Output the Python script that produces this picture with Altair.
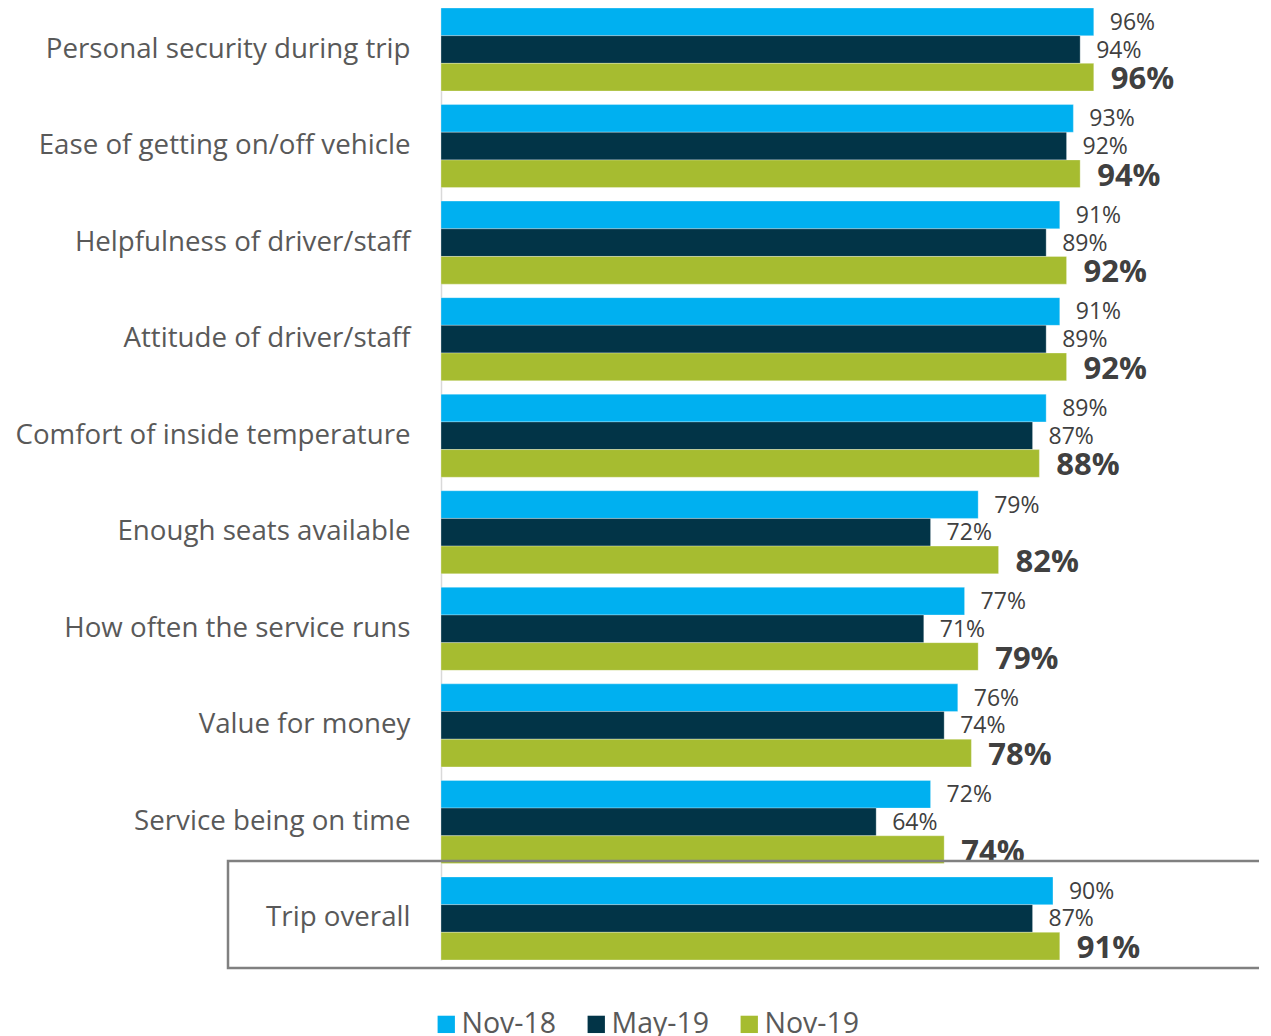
import altair as alt
import pandas as pd

categories = [
    "Personal security during trip",
    "Ease of getting on/off vehicle",
    "Helpfulness of driver/staff",
    "Attitude of driver/staff",
    "Comfort of inside temperature",
    "Enough seats available",
    "How often the service runs",
    "Value for money",
    "Service being on time",
    "Trip overall",
]
series = ["Nov-18", "May-19", "Nov-19"]
nov18 = [96, 93, 91, 91, 89, 79, 77, 76, 72, 90]
may19 = [94, 92, 89, 89, 87, 72, 71, 74, 64, 87]
nov19 = [96, 94, 92, 92, 88, 82, 79, 78, 74, 91]
colors = ["#00B0F0", "#023447", "#A6BC30"]

rows = []
for i, c in enumerate(categories):
    for s, vals in zip(series, [nov18, may19, nov19]):
        rows.append({"category": c, "series": s, "value": vals[i], "label": f"{vals[i]}%"})
df = pd.DataFrame(rows)

FONT = "Open Sans"
W, H = 818, 952

y_enc = alt.Y("category:N", sort=categories, title=None,
              scale=alt.Scale(paddingInner=0.14, paddingOuter=0),
              axis=alt.Axis(ticks=False, labelFontSize=27.7, labelColor="#595959",
                            labelFont=FONT, labelPadding=31, domainColor="#D9D9D9",
                            domainWidth=1.5, labelLimit=500))
yoff = alt.YOffset("series:N", sort=series, scale=alt.Scale(paddingInner=0, paddingOuter=0))
x_enc = alt.X("value:Q", scale=alt.Scale(domain=[0, 120.3], nice=False, zero=True), axis=None)

color = alt.Color("series:N", sort=series,
                  scale=alt.Scale(domain=series, range=colors),
                  legend=alt.Legend(title=None, orient="none", direction="horizontal",
                                    legendX=-9, legendY=1002, symbolType="square",
                                    symbolSize=300, symbolStrokeWidth=0, symbolOpacity=1,
                                    labelFontSize=28.5, labelFont=FONT, labelColor="#595959",
                                    labelOffset=1, columnPadding=25, padding=0))

base = alt.Chart(df)
bars = base.mark_bar(stroke="#FFFFFF", strokeWidth=0.5, strokeOpacity=0.6).encode(
    y=y_enc, yOffset=yoff, x=x_enc, color=color)

labels_small = base.transform_filter(alt.datum.series != "Nov-19").mark_text(
    align="left", baseline="middle", dx=16, dy=1, fontSize=23, font=FONT, color="#404040"
).encode(y=alt.Y("category:N", sort=categories), yOffset=yoff, x="value:Q", text="label:N")

labels_big = base.transform_filter(alt.datum.series == "Nov-19").mark_text(
    align="left", baseline="middle", dx=17, dy=3, fontSize=31, fontWeight="bold", font=FONT,
    color="#404040"
).encode(y=alt.Y("category:N", sort=categories), yOffset=yoff, x="value:Q", text="label:N")

box = alt.Chart(pd.DataFrame({"k": [0]})).mark_rect(
    filled=False, stroke="#808080", strokeWidth=2.5
).encode(x=alt.value(-213), x2=alt.value(W + 50), y=alt.value(853), y2=alt.value(960))

chart = alt.layer(bars, labels_small, labels_big, box).properties(
    width=W, height=H,
    autosize=alt.AutoSizeParams(type="none"),
    padding={"left": 433, "top": 0, "right": 0, "bottom": 90},
).configure_view(stroke=None)

chart.save("out.html", embed_options={"renderer": "svg", "actions": False})
